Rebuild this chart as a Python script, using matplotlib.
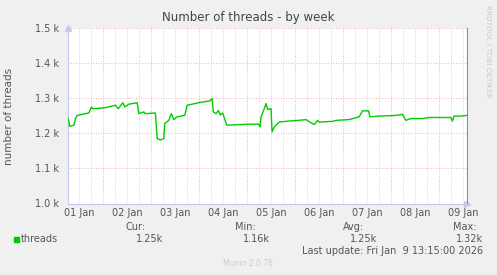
import matplotlib.pyplot as plt
from matplotlib.ticker import FixedLocator, FuncFormatter

# hours since 01 Jan 00:00 and number of threads
hours = [5.5, 6.6, 7.0, 9.2, 10.0, 10.9, 16.7, 18.0, 18.7, 25.0, 30.0, 31.4,
         33.7, 34.7, 36.7, 40.9, 41.7, 44.2, 45.0, 50.0, 50.9, 52.5, 54.2,
         54.7, 56.7, 58.0, 59.2, 60.9, 64.7, 65.9, 70.0, 73.4, 77.0, 78.4,
         79.0, 80.4, 81.5, 82.5, 83.7, 85.7, 97.0, 101.7, 102.4, 102.9,
         104.5, 105.4, 106.2, 107.9, 108.4, 109.5, 112.0, 117.0, 122.0,
         125.4, 127.0, 129.5, 131.2, 132.0, 138.7, 140.7, 147.0, 152.0,
         153.7, 156.7, 157.4, 162.0, 170.4, 173.7, 175.4, 177.9, 183.7,
         187.0, 192.0, 197.9, 198.7, 199.5, 202.9, 206.0]
threads = [1251, 1237, 1220, 1223, 1242, 1251, 1258, 1275, 1270, 1273, 1280,
           1270, 1287, 1275, 1283, 1287, 1256, 1261, 1256, 1258, 1185, 1181,
           1185, 1228, 1237, 1256, 1239, 1247, 1251, 1280, 1285, 1289, 1292,
           1299, 1261, 1256, 1265, 1252, 1258, 1223, 1226, 1226, 1218, 1247,
           1270, 1285, 1268, 1270, 1204, 1218, 1232, 1235, 1237, 1239, 1233,
           1225, 1237, 1232, 1234, 1237, 1239, 1247, 1264, 1264, 1247, 1249,
           1251, 1254, 1237, 1242, 1242, 1245, 1245, 1245, 1235, 1249, 1249,
           1251]

day_labels = ['01 Jan', '02 Jan', '03 Jan', '04 Jan', '05 Jan',
              '06 Jan', '07 Jan', '08 Jan', '09 Jan']
y_ticks = [1000, 1100, 1200, 1300, 1400, 1500]

legend_name = 'threads'
stat_names = ['Cur:', 'Min:', 'Avg:', 'Max:']
stat_values = ['1.25k', '1.16k', '1.25k', '1.32k']

W, H = 497, 275
fig = plt.figure(figsize=(W / 100, H / 100), dpi=100, facecolor='#f0f0f0')
ax = fig.add_axes([67.5 / W, 1 - 203.5 / H, 399.5 / W, 175.5 / H])
ax.set_facecolor('white')

ax.plot(hours, threads, color='#00cc00', lw=1.0, zorder=3)

ax.set_xlim(6, 206)
ax.set_ylim(1000, 1500)

# grid: minor every 6 hours (grey), major each midnight / 100 (red)
minor_x = [h for h in range(6, 207, 6) if h % 24 != 0]
for h in minor_x:
    ax.axvline(h, color='#c8c8c8', lw=0.6, ls=(0, (1, 2)), zorder=1)
for h in range(24, 207, 24):
    ax.axvline(h, color='#e8a0a0', lw=0.6, ls=(0, (1, 2)), zorder=1)
for v in y_ticks[1:]:
    ax.axhline(v, color='#e8a0a0', lw=0.6, ls=(0, (1, 2)), zorder=1)

ax.xaxis.set_major_locator(FixedLocator([12 + 24 * i for i in range(len(day_labels))]))
ax.xaxis.set_major_formatter(FuncFormatter(lambda v, p: day_labels[int((v - 12) // 24)]))
ax.set_yticks(y_ticks)
ax.set_yticklabels(['%.1f k' % (v / 1000) for v in y_ticks])
ax.tick_params(axis='both', length=0, labelsize=7, colors='#555555', pad=3)
ax.tick_params(axis='y', pad=6)

ax.spines['top'].set_visible(False)
ax.spines['left'].set_color('#c8c8ee')
ax.spines['bottom'].set_color('#c8c8ee')
ax.spines['right'].set_color('#909090')
for s in ax.spines.values():
    s.set_linewidth(0.8)

# axis arrows
ax.plot(1, 0, '>', color='#c8c8ee', ms=4, transform=ax.transAxes, clip_on=False)
ax.plot(0, 1, '^', color='#c8c8ee', ms=4, transform=ax.transAxes, clip_on=False)

fig.text(248 / W, 1 - 17 / H, 'Number of threads - by week', ha='center',
         va='center', fontsize=8.5, color='#444444')
fig.text(9 / W, 1 - 116 / H, 'number of threads', rotation=90, ha='center',
         va='center', fontsize=7.5, color='#555555')
fig.text(488 / W, 1 - 51 / H, 'RRDTOOL / TOBI OETIKER', rotation=270,
         ha='center', va='center', fontsize=5.2, color='#c8c8c8')

# legend block
fig.patches.append(plt.Rectangle((14 / W, 1 - 242 / H), 5 / W, 5 / H,
                                 transform=fig.transFigure, color='#00cc00'))
fig.text(21 / W, 1 - 239.5 / H, legend_name, ha='left', va='center',
         fontsize=7, color='#555555')
head_x = [146, 256, 364, 477]
val_x = [163, 270, 377, 483]
for name, val, hx, vx in zip(stat_names, stat_values, head_x, val_x):
    fig.text(hx / W, 1 - 227.5 / H, name, ha='right', va='center',
             fontsize=7, color='#555555')
    fig.text(vx / W, 1 - 239.5 / H, val, ha='right', va='center',
             fontsize=7, color='#555555')
fig.text(483 / W, 1 - 251 / H, 'Last update: Fri Jan  9 13:15:00 2026',
         ha='right', va='center', fontsize=7, color='#555555')
fig.text(248 / W, 1 - 263 / H, 'Munin 2.0.76', ha='center', va='center',
         fontsize=5.5, color='#cccccc')

fig.savefig('out.png', dpi=100, facecolor=fig.get_facecolor())
